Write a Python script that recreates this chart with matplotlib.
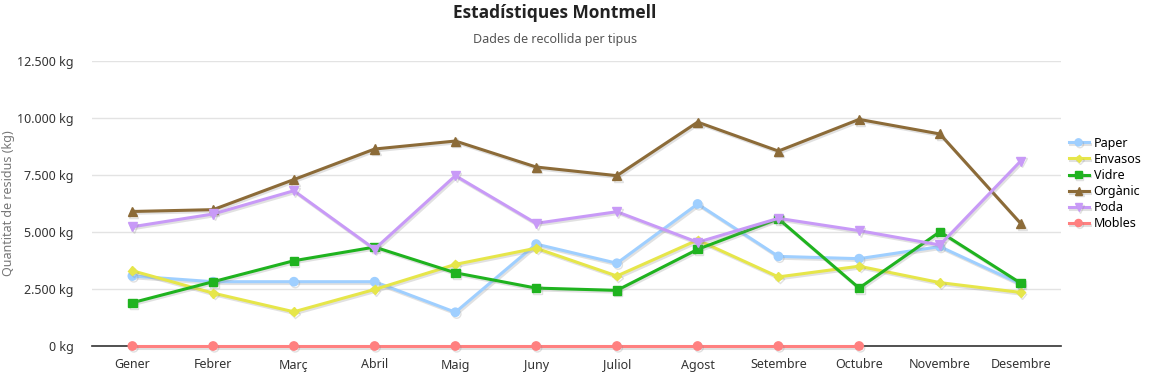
import numpy as np
import matplotlib.pyplot as plt
import matplotlib.patheffects as pe
from matplotlib.ticker import FuncFormatter

plt.rcParams['font.family'] = ['Noto Sans', 'DejaVu Sans']

mesos = ["Gener", "Febrer", "Març", "Abril", "Maig", "Juny", "Juliol",
         "Agost", "Setembre", "Octubre", "Novembre", "Desembre"]

paper = [3070, 2820, 2820, 2820, 1480, 4470, 3630, 6230, 3930, 3830, 4360, 2720]
envasos = [3300, 2320, 1500, 2480, 3580, 4290, 3070, 4650, 3030, 3500, 2780, 2350]
vidre = [1900, 2820, 3740, 4340, 3210, 2540, 2440, 4240, 5580, 2540, 5010, 2760]
organic = [5900, 5980, 7300, 8640, 8990, 7850, 7470, 9820, 8550, 9940, 9300, 5380]
poda = [5230, 5790, 6810, 4250, 7470, 5380, 5890, 4550, 5600, 5060, 4430, 8110]
mobles = [0, 0, 0, 0, 0, 0, 0, 0, 0, 0, np.nan, np.nan]

series = [
    ("Paper", paper, "#9fcfff", "o", 6),
    ("Envasos", envasos, "#e6e64a", "D", 4.5),
    ("Vidre", vidre, "#1fb31f", "s", 6),
    ("Orgànic", organic, "#8c6b38", "^", 6.5),
    ("Poda", poda, "#c89af7", "v", 6.5),
    ("Mobles", mobles, "#ff8080", "o", 6),
]

fig = plt.figure(figsize=(11.55, 3.79), dpi=100)
ax = fig.add_axes([92 / 1155, 1 - 346 / 379, 969 / 1155, 285 / 379])

x = np.arange(len(mesos))
shadow = [pe.SimpleLineShadow(offset=(1.0, -1.3), shadow_color="#888888", alpha=0.25),
          pe.Normal()]
for nom, vals, col, mk, ms in series:
    ax.plot(x, vals, color=col, lw=2.2, marker=mk, markersize=ms,
            markeredgecolor=col, label=nom, path_effects=shadow, zorder=3,
            clip_on=False)

ax.set_xlim(-0.5, 11.5)
ax.set_ylim(0, 12500)
ax.set_yticks([0, 2500, 5000, 7500, 10000, 12500])
ax.yaxis.set_major_formatter(FuncFormatter(lambda v, p: f"{int(v):,} kg".replace(",", ".")))
ax.set_xticks(x)
ax.set_xticklabels(mesos)
ax.tick_params(length=0, labelsize=9, colors="#333333")
ax.tick_params(axis="x", pad=9)
ax.tick_params(axis="y", pad=13)
ax.grid(axis="y", color="#e3e3e3", lw=1)
ax.set_axisbelow(True)
for s in ["top", "right", "left"]:
    ax.spines[s].set_visible(False)
ax.spines["bottom"].set_color("#333333")
ax.spines["bottom"].set_linewidth(1.2)
ax.spines["bottom"].set_zorder(2)

ax.set_ylabel("Quantitat de residus (kg)", fontsize=9, color="#777777", labelpad=2)

fig.text(555 / 1155, 1 - 13 / 379, "Estadístiques Montmell", ha="center", va="center",
         fontsize=12.5, fontweight="bold", color="#222222",
         family=["Open Sans", "DejaVu Sans"])
fig.text(555 / 1155, 1 - 39 / 379, "Dades de recollida per tipus", ha="center", va="center",
         fontsize=9, color="#555555")

ax.legend(loc="center left", bbox_to_anchor=(1.0, 0.57), frameon=False,
          fontsize=9, handlelength=1.6, labelspacing=0.25, handletextpad=0.4,
          borderaxespad=0.2, markerscale=0.85)

fig.savefig("out.png", dpi=100)
